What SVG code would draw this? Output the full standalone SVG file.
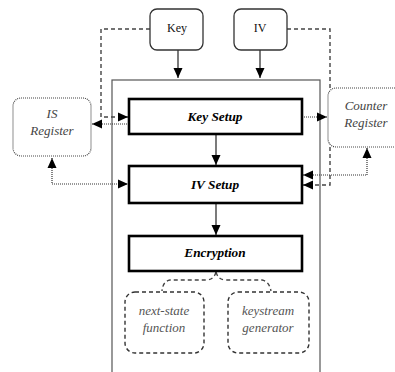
<svg xmlns="http://www.w3.org/2000/svg" width="395" height="372" viewBox="0 0 395 372">
  <style>
    .input { fill: #fff; stroke: #333; stroke-width: 1.3; }
    .stage { fill: #fff; stroke: #000; stroke-width: 2.6; }
    .frame { fill: none; stroke: #555; stroke-width: 1.2; }
    .reg { fill: #fff; stroke: #444; stroke-width: 1.2; stroke-dasharray: 1 1; }
    .sub { fill: #fff; stroke: #333; stroke-width: 1.4; stroke-dasharray: 4 3; }
    .solid { fill: none; stroke: #222; stroke-width: 1.2; }
    .dashed { fill: none; stroke: #444; stroke-width: 1.4; stroke-dasharray: 4 3; }
    .dotted { fill: none; stroke: #333; stroke-width: 1.2; stroke-dasharray: 1 1; }
    text { text-anchor: middle; font-family: "Liberation Serif", "Times New Roman", serif; }
    .in-label { font-size: 12px; fill: #111; }
    .stage-label { font-size: 13.3px; font-weight: bold; font-style: italic; fill: #000; }
    .reg-label { font-size: 13px; font-style: italic; fill: #444; }
    .sub-label { font-size: 13px; font-style: italic; fill: #555; }
  </style>
  <defs>
    <marker id="arrow" markerUnits="userSpaceOnUse" markerWidth="10" markerHeight="10" viewBox="0 0 10 10" refX="10" refY="5" orient="auto-start-reverse">
      <path d="M0,0.5 L10,5 L0,9.5 Z" fill="#000"/>
    </marker>
  </defs>

  <!-- outer cipher frame -->
  <rect class="frame" x="112" y="80" width="208" height="300"/>

  <g id="connectors">
    <!-- solid data flow -->
    <path class="solid" d="M178 50 L178 78" marker-end="url(#arrow)"/>
    <path class="solid" d="M260 50 L260 78" marker-end="url(#arrow)"/>
    <path class="solid" d="M216 134 L216 165" marker-end="url(#arrow)"/>
    <path class="solid" d="M216 203 L216 235" marker-end="url(#arrow)"/>
    <!-- key / iv side feeds -->
    <path class="dashed" d="M150 29 L101 29 L101 117 L128 117" marker-end="url(#arrow)"/>
    <path class="dashed" d="M287 29 L330 29 L330 185 L303 185" marker-end="url(#arrow)"/>
    <!-- register links -->
    <path class="dotted" d="M129 124 L92 124" marker-end="url(#arrow)"/>
    <path class="dotted" d="M52 158 L52 184 L128 184" marker-start="url(#arrow)" marker-end="url(#arrow)"/>
    <path class="dotted" d="M302 117 L327 117" marker-end="url(#arrow)"/>
    <path class="dotted" d="M367 148 L367 175 L303 175" marker-start="url(#arrow)" marker-end="url(#arrow)"/>
    <!-- encryption split -->
    <path class="dashed" d="M216 272 Q214 280 206 280 L170 280 Q163 281 162 291"/>
    <path class="dashed" d="M216 272 Q218 280 226 280 L262 280 Q269 281 271 291"/>
  </g>

  <g id="key">
    <rect class="input" x="150" y="9" width="53" height="41" rx="7"/>
    <text class="in-label" x="177" y="32">Key</text>
  </g>
  <g id="iv">
    <rect class="input" x="234" y="9" width="53" height="41" rx="7"/>
    <text class="in-label" x="260" y="32">IV</text>
  </g>

  <g id="key-setup">
    <rect class="stage" x="129" y="99" width="173" height="35"/>
    <text class="stage-label" x="215" y="121">Key Setup</text>
  </g>
  <g id="iv-setup">
    <rect class="stage" x="129" y="166" width="173" height="37"/>
    <text class="stage-label" x="215" y="189">IV Setup</text>
  </g>
  <g id="encryption">
    <rect class="stage" x="129" y="236" width="173" height="35"/>
    <text class="stage-label" x="215" y="257">Encryption</text>
  </g>

  <g id="is-register">
    <rect class="reg" x="13" y="98" width="78" height="58" rx="8"/>
    <text class="reg-label" x="52" y="118">IS</text>
    <text class="reg-label" x="52" y="135">Register</text>
  </g>
  <g id="counter-register">
    <rect class="reg" x="328" y="88" width="80" height="59" rx="8"/>
    <text class="reg-label" x="366" y="110">Counter</text>
    <text class="reg-label" x="366" y="127">Register</text>
  </g>

  <g id="next-state">
    <rect class="sub" x="125" y="292" width="79" height="61" rx="10"/>
    <text class="sub-label" x="164" y="315">next-state</text>
    <text class="sub-label" x="164" y="332">function</text>
  </g>
  <g id="keystream">
    <rect class="sub" x="228" y="292" width="81" height="61" rx="10"/>
    <text class="sub-label" x="268" y="315">keystream</text>
    <text class="sub-label" x="268" y="332">generator</text>
  </g>
</svg>
